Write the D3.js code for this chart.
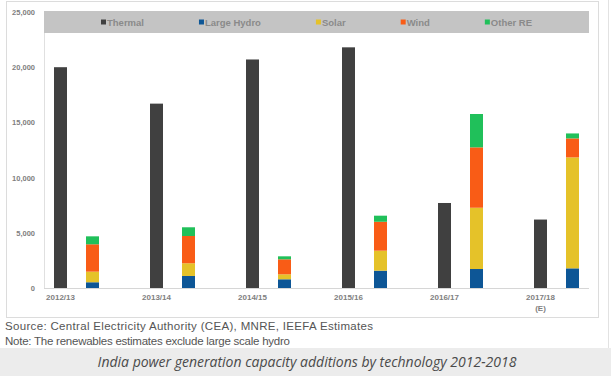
<!DOCTYPE html>
<html>
<head>
<meta charset="utf-8">
<script src="https://cdn.jsdelivr.net/npm/d3@7"></script>
<style>
  body { margin: 0; background: #fff; }
  svg { display: block; }
</style>
</head>
<body>
<div id="chart"></div>
<script>
// data (MW added per year)
const years = ["2012/13", "2013/14", "2014/15", "2015/16", "2016/17", "2017/18"];
const yearNotes = ["", "", "", "", "", "(E)"];
const thermal = [20000, 16700, 20700, 21800, 7700, 6200];
const largeHydro = [520, 1090, 790, 1570, 1720, 1780];
const solar = [960, 1150, 450, 1810, 5550, 10050];
const wind = [2480, 2470, 1360, 2620, 5470, 1720];
const otherRE = [720, 790, 270, 550, 3020, 450];
const seriesNames = ["Thermal", "Large Hydro", "Solar", "Wind", "Other RE"];
const yTicks = [0, 5000, 10000, 15000, 20000, 25000];

const colors = {
  "Thermal": "#404040",
  "Large Hydro": "#0d5696",
  "Solar": "#e5c229",
  "Wind": "#f95c16",
  "Other RE": "#20c05a"
};

const W = 611, H = 376;
const svg = d3.select("#chart").append("svg")
  .attr("width", W)
  .attr("height", H);

// background pieces
svg.append("rect").attr("x", 0).attr("y", 348).attr("width", W).attr("height", H - 348)
  .attr("fill", "#ececec");
svg.append("rect").attr("x", 6.5).attr("y", 1.5).attr("width", 592).attr("height", 316)
  .attr("fill", "#fff").attr("stroke", "#dcdcdc");
svg.append("line").attr("x1", 608.5).attr("x2", 608.5).attr("y1", 0).attr("y2", 348)
  .attr("stroke", "#e2e2e2");

const plot = {left: 44, right: 589, top: 12, bottom: 288};

const y = d3.scaleLinear()
  .domain([0, 25000])
  .range([plot.bottom, plot.top]);

const x = d3.scaleBand()
  .domain(years)
  .range([plot.left, plot.left + 96 * years.length]);

// thermal bar and the renewables stack sit side by side in each year
const sub = d3.scalePoint()
  .domain(["thermal", "re"])
  .range([16.5, 48.5]);
const barW = 13;

// legend box
svg.append("rect")
  .attr("x", plot.left).attr("y", 11)
  .attr("width", plot.right - plot.left).attr("height", 22)
  .attr("fill", "#c4c4c4");

let lx = 101;
seriesNames.forEach(name => {
  svg.append("rect")
    .attr("x", lx).attr("y", 19.5).attr("width", 5).attr("height", 5)
    .attr("fill", colors[name]);
  const t = svg.append("text")
    .attr("x", lx + 6).attr("y", 25.5)
    .attr("font-family", "Liberation Sans, Arial, sans-serif")
    .attr("font-size", "9.5px")
    .attr("font-weight", "bold")
    .attr("fill", "#8a8a8a")
    .text(name);
  lx += 6 + t.node().getComputedTextLength() + 55;
});

// axes lines
svg.append("line")
  .attr("x1", plot.left + 0.5).attr("x2", plot.left + 0.5)
  .attr("y1", 33).attr("y2", plot.bottom)
  .attr("stroke", "#e0e0e0");
svg.append("line")
  .attr("x1", plot.left).attr("x2", plot.right)
  .attr("y1", plot.bottom + 0.5).attr("y2", plot.bottom + 0.5)
  .attr("stroke", "#d6d6d6");

// y axis
const yAxis = svg.append("g")
  .attr("transform", `translate(${plot.left - 6},0)`)
  .call(d3.axisLeft(y).tickValues(yTicks).tickSize(0).tickFormat(d3.format(",")));
yAxis.select(".domain").remove();
yAxis.selectAll("text")
  .attr("font-family", "Liberation Sans, Arial, sans-serif")
  .attr("font-size", "7.5px")
  .attr("font-weight", "bold")
  .attr("fill", "#808080");

// x labels
const xl = svg.append("g");
xl.selectAll("text.yr")
  .data(years)
  .enter().append("text")
  .attr("class", "yr")
  .attr("x", d => x(d) + sub("thermal"))
  .attr("y", 300)
  .attr("text-anchor", "middle")
  .attr("font-family", "Liberation Sans, Arial, sans-serif")
  .attr("font-size", "8px")
  .attr("font-weight", "bold")
  .attr("fill", "#808080")
  .text(d => d);
xl.selectAll("text.note")
  .data(years)
  .enter().append("text")
  .attr("class", "note")
  .attr("x", d => x(d) + sub("thermal"))
  .attr("y", 311)
  .attr("text-anchor", "middle")
  .attr("font-family", "Liberation Sans, Arial, sans-serif")
  .attr("font-size", "8px")
  .attr("font-weight", "bold")
  .attr("fill", "#808080")
  .text((d, i) => yearNotes[i]);

// thermal bars
svg.selectAll("rect.thermal")
  .data(years)
  .enter().append("rect")
  .attr("class", "thermal")
  .attr("x", d => x(d) + sub("thermal") - barW / 2)
  .attr("y", (d, i) => y(thermal[i]))
  .attr("width", barW)
  .attr("height", (d, i) => y(0) - y(thermal[i]))
  .attr("fill", colors["Thermal"]);

// renewables stack
const stackRows = years.map((d, i) => ({
  year: d,
  "Large Hydro": largeHydro[i],
  "Solar": solar[i],
  "Wind": wind[i],
  "Other RE": otherRE[i]
}));
const stacked = d3.stack().keys(["Large Hydro", "Solar", "Wind", "Other RE"])(stackRows);

svg.selectAll("g.layer")
  .data(stacked)
  .enter().append("g")
  .attr("class", "layer")
  .attr("fill", d => colors[d.key])
  .selectAll("rect")
  .data(d => d)
  .enter().append("rect")
  .attr("x", d => x(d.data.year) + sub("re") - barW / 2)
  .attr("y", d => y(d[1]))
  .attr("width", barW)
  .attr("height", d => y(d[0]) - y(d[1]));

// source and note
svg.append("text")
  .attr("x", 5).attr("y", 330)
  .attr("font-family", "Liberation Sans, Arial, sans-serif")
  .attr("font-size", "11.5px")
  .attr("fill", "#555")
  .attr("textLength", 368)
  .text("Source: Central Electricity Authority (CEA), MNRE, IEEFA Estimates");
svg.append("text")
  .attr("x", 5).attr("y", 345)
  .attr("font-family", "Liberation Sans, Arial, sans-serif")
  .attr("font-size", "11.5px")
  .attr("fill", "#555")
  .attr("textLength", 285)
  .text("Note: The renewables estimates exclude large scale hydro");

// caption
svg.append("text")
  .attr("x", 307).attr("y", 367)
  .attr("text-anchor", "middle")
  .attr("font-family", "Open Sans, sans-serif")
  .attr("font-size", "14px")
  .attr("font-style", "italic")
  .attr("fill", "#4a4a4a")
  .text("India power generation capacity additions by technology 2012-2018");
</script>
</body>
</html>
